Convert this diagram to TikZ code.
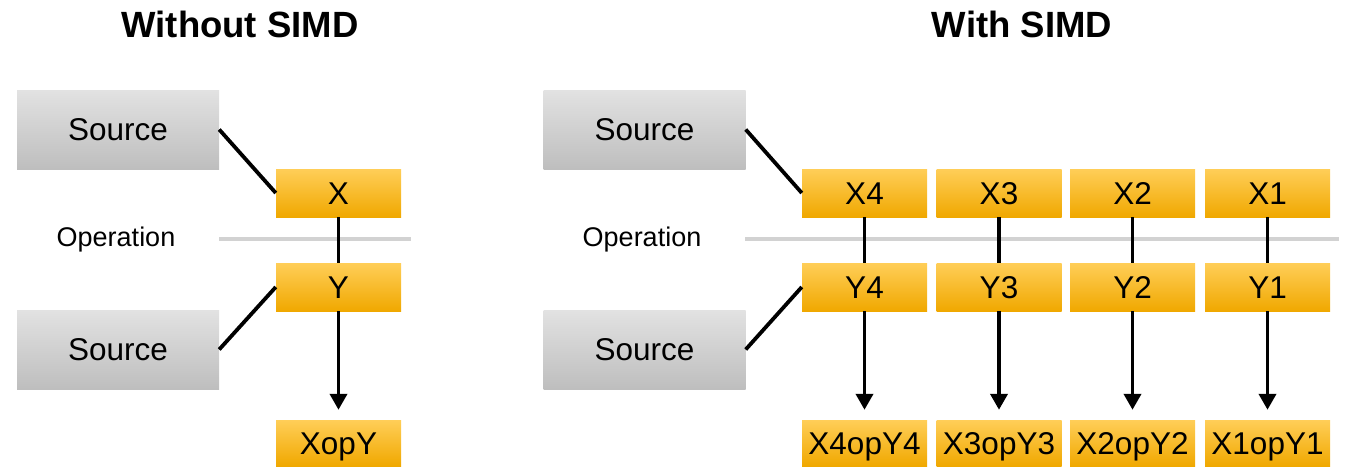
\documentclass[tikz,border=0pt]{standalone}
\usepackage{fontspec}
\setmainfont{Liberation Sans}
\usetikzlibrary{arrows.meta}

\definecolor{srcTop}{RGB}{226,226,226}
\definecolor{srcBot}{RGB}{190,190,190}
\definecolor{regTop}{RGB}{255,206,88}
\definecolor{regBot}{RGB}{240,168,0}
\definecolor{opGray}{RGB}{210,210,210}

\tikzset{
  boxtext/.style={font=\fontsize{31.5}{37}\selectfont, text height=22.6pt, text depth=0pt, inner sep=0pt},
  srcbox/.style={boxtext, rectangle, minimum width=202pt, minimum height=79pt,
                 top color=srcTop, bottom color=srcBot, draw=none},
  regbox/.style={boxtext, rectangle, minimum width=125pt, minimum height=48pt,
                 top color=regTop, bottom color=regBot, draw=none},
  resbox/.style={regbox, minimum height=46pt},
  heading/.style={font=\fontsize{36.5}{42}\selectfont\bfseries, inner sep=0pt, anchor=base},
  oplabel/.style={font=\fontsize{27}{32}\selectfont, inner sep=0pt, text height=19.3pt, text depth=0pt},
  opline/.style={line width=3.5pt, opGray},
  wire/.style={line width=3.8pt, black},
  flow/.style={wire, -{Triangle[width=17pt,length=16pt]}, shorten >=10pt},
}

\begin{document}
\begin{tikzpicture}[x=1pt, y=-1pt]
\useasboundingbox (0,0) rectangle (1349,466);

% headings
\node[heading] (h1) at (240,37) {Without SIMD};
\node[heading] (h2) at (1022,37) {With SIMD};

% operation separators
\coordinate (opA1) at (219,239);
\coordinate (opA2) at (411,239);
\coordinate (opB1) at (745,239);
\coordinate (opB2) at (1339,239);
\draw[opline] (opA1) -- (opA2);
\draw[opline] (opB1) -- (opB2);
\node[oplabel] (op1) at (116,237) {Operation};
\node[oplabel] (op2) at (642,237) {Operation};

% scalar case
\node[srcbox] (s1) at (118,129.5) {Source};
\node[srcbox] (s2) at (118,349.5) {Source};
\node[regbox] (x) at (338.5,193) {X};
\node[regbox] (y) at (338.5,287) {Y};
\node[resbox] (r) at (338.5,443) {XopY};

\draw[wire] (s1.east) -- (x.west);
\draw[wire] (s2.east) -- (y.west);
\draw[wire] (x) -- (y);
\draw[flow] (y) -- (r);

% vector case
\node[srcbox] (vs1) at (644.5,129.5) {Source};
\node[srcbox] (vs2) at (644.5,349.5) {Source};
\foreach \i/\cx in {4/864.5, 3/999, 2/1132.5, 1/1267.5} {
  \node[regbox] (x\i) at (\cx,193) {X\i};
  \node[regbox] (y\i) at (\cx,287) {Y\i};
  \node[resbox] (r\i) at (\cx,443) {X\i opY\i};
  \draw[wire] (x\i) -- (y\i);
  \draw[flow] (y\i) -- (r\i);
}
\draw[wire] (vs1.east) -- (x4.west);
\draw[wire] (vs2.east) -- (y4.west);
\end{tikzpicture}
\end{document}
